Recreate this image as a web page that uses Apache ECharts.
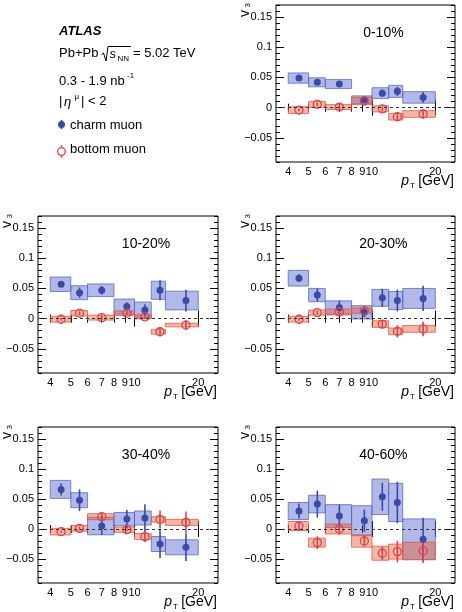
<!DOCTYPE html>
<html>
<head>
<meta charset="utf-8">
<script src="https://cdn.jsdelivr.net/npm/echarts@6/dist/echarts.min.js"></script>
<style>
html, body { margin: 0; padding: 0; background: #fff; }
#chart { width: 462px; height: 612px; }
</style>
</head>
<body>
<div id="chart"></div>
<script>
// pT bins [GeV] and where the points sit
var binEdges = [4, 5, 6, 8, 10, 12, 14, 20]
var ptPoints = [4.5, 5.5, 7, 9.2, 11.2, 13.2, 17.5]
var xTickLabels = [4, 5, 6, 7, 8, 9, 10, 20]
var yTickLabels = [-0.05, 0, 0.05, 0.1, 0.15]
var centralities = ['0-10%', '10-20%', '20-30%', '30-40%', '40-60%']

// v3 of charm muons, one row per centrality
var charmV3 = [
  [0.049, 0.042, 0.039, 0.013, 0.024, 0.027, 0.017],
  [0.057, 0.043, 0.047, 0.020, 0.0145, 0.047, 0.030],
  [0.067, 0.039, 0.0185, 0.0105, 0.0345, 0.030, 0.0335],
  [0.066, 0.048, 0.005, 0.0166, 0.0183, -0.025, -0.0305],
  [0.030, 0.0415, 0.0216, 0.0138, 0.0537, 0.0443, -0.0172]
]
var charmStat = [
  [0.002, 0.004, 0.004, 0.003, 0.006, 0.0075, 0.009],
  [0.003, 0.0085, 0.007, 0.007, 0.0095, 0.0165, 0.018],
  [0.0065, 0.0105, 0.011, 0.008, 0.015, 0.018, 0.021],
  [0.010, 0.018, 0.015, 0.015, 0.023, 0.0235, 0.023],
  [0.0125, 0.0225, 0.019, 0.0185, 0.0235, 0.0345, 0.036]
]
var charmSys = [
  [0.0085, 0.0075, 0.0075, 0.0065, 0.009, 0.010, 0.0095],
  [0.012, 0.0115, 0.0105, 0.0125, 0.013, 0.015, 0.0155],
  [0.013, 0.011, 0.011, 0.011, 0.014, 0.015, 0.0165],
  [0.015, 0.0125, 0.0147, 0.011, 0.0117, 0.0125, 0.0125],
  [0.0142, 0.0147, 0.019, 0.025, 0.0296, 0.0318, 0.034]
]

// v3 of bottom muons
var bottomV3 = [
  [-0.004, 0.0055, 0.001, 0.011, -0.002, -0.015, -0.0105],
  [-0.001, 0.009, 0.0017, 0.009, 0.003, -0.0217, -0.0106],
  [-0.001, 0.010, 0.011, 0.0133, -0.009, -0.021, -0.017],
  [-0.0044, 0.0011, 0.0205, -0.0011, -0.0127, 0.016, 0.011],
  [0.005, -0.0227, 0.0, -0.020, -0.0404, -0.0377, -0.0366]
]
var bottomStat = [
  [0.002, 0.003, 0.003, 0.003, 0.004, 0.007, 0.007],
  [0.002, 0.003, 0.002, 0.003, 0.003, 0.0075, 0.008],
  [0.002, 0.003, 0.007, 0.006, 0.007, 0.010, 0.012],
  [0.002, 0.003, 0.0075, 0.002, 0.009, 0.015, 0.018],
  [0.0083, 0.0105, 0.009, 0.009, 0.0115, 0.018, 0.020]
]
var bottomSys = [
  [0.0055, 0.005, 0.004, 0.006, 0.005, 0.0055, 0.0055],
  [0.0047, 0.0045, 0.004, 0.004, 0.0035, 0.004, 0.003],
  [0.0047, 0.0042, 0.005, 0.0045, 0.0055, 0.0055, 0.0055],
  [0.0055, 0.0047, 0.005, 0.0044, 0.005, 0.0045, 0.005],
  [0.0075, 0.0075, 0.0083, 0.0103, 0.0117, 0.0125, 0.0144]
]

var FONT = '"Liberation Sans", Arial, Helvetica, sans-serif'
var BLUE = '#3a4aa6'
var RED = '#e0404a'
var xMin = Math.log10(3.5)
var xMax = Math.log10(24.8)
var yMin = -0.09
var yMax = 0.17

function lg (v) { return Math.log10(v) }

var panels = [
  { left: 276, top: 5, width: 179, height: 157 },
  { left: 38, top: 216, width: 180, height: 157 },
  { left: 276, top: 216, width: 179, height: 157 },
  { left: 38, top: 427, width: 180, height: 156 },
  { left: 276, top: 427, width: 179, height: 156 }
]

var minorY = []
for (var k = -9; k <= 17; k++) minorY.push(k / 100)

function xAxisOf (gi, pos, ticks, len, withLabels) {
  return {
    type: 'value', gridIndex: gi, position: pos, min: xMin, max: xMax,
    axisLine: { show: false },
    splitLine: { show: false },
    axisTick: { show: true, inside: true, length: len, customValues: ticks.map(lg), lineStyle: { color: '#000', width: 1 } },
    axisLabel: withLabels ? {
      show: true, customValues: xTickLabels.map(lg), margin: 4,
      fontSize: 11, fontFamily: FONT, color: '#000',
      formatter: function (v) { return String(Math.round(Math.pow(10, v))) }
    } : { show: false }
  }
}

function yAxisOf (gi, pos, ticks, len, withLabels) {
  return {
    type: 'value', gridIndex: gi, position: pos, min: yMin, max: yMax,
    axisLine: { show: false },
    splitLine: { show: false },
    axisTick: { show: true, inside: true, length: len, customValues: ticks, lineStyle: { color: '#000', width: 1 } },
    axisLabel: withLabels ? {
      show: true, customValues: yTickLabels, margin: 4,
      fontSize: 11, fontFamily: FONT, color: '#000',
      formatter: function (v) {
        if (Math.abs(v) < 1e-9) return '0'
        return v < 0 ? '\u2212' + String(Math.abs(v)) : String(v)
      }
    } : { show: false }
  }
}

function boxSeries (axisIdx, vals, sys, fill, stroke, extra) {
  var data = vals.map(function (v, i) {
    return [lg(binEdges[i]), lg(binEdges[i + 1]), v - sys[i], v + sys[i]]
  })
  var s = {
    type: 'custom', xAxisIndex: axisIdx, yAxisIndex: axisIdx, silent: true,
    data: data,
    encode: { x: [0, 1], y: [2, 3] },
    renderItem: function (params, api) {
      var a = api.coord([api.value(0), api.value(3)])
      var b = api.coord([api.value(1), api.value(2)])
      return {
        type: 'rect',
        shape: { x: a[0], y: a[1], width: b[0] - a[0], height: b[1] - a[1] },
        style: { fill: fill, stroke: stroke, lineWidth: 1 }
      }
    }
  }
  return Object.assign(s, extra || {})
}

function errSeries (axisIdx, vals, stat, color) {
  var data = vals.map(function (v, i) {
    return [lg(ptPoints[i]), v - stat[i], v + stat[i]]
  })
  return {
    type: 'custom', xAxisIndex: axisIdx, yAxisIndex: axisIdx, silent: true,
    data: data,
    encode: { x: 0, y: [1, 2] },
    renderItem: function (params, api) {
      var a = api.coord([api.value(0), api.value(2)])
      var b = api.coord([api.value(0), api.value(1)])
      return {
        type: 'line',
        shape: { x1: a[0], y1: a[1], x2: b[0], y2: b[1] },
        style: { stroke: color, lineWidth: 1.6 }
      }
    }
  }
}

var grids = []
var xAxes = []
var yAxes = []
var series = []
var graphics = []

panels.forEach(function (p, gi) {
  grids.push({ left: p.left, top: p.top, width: p.width, height: p.height, show: true, borderColor: '#000', borderWidth: 1, backgroundColor: 'transparent' })
  var base = xAxes.length
  xAxes.push(xAxisOf(gi, 'bottom', [10, 20], 8, true))
  xAxes.push(xAxisOf(gi, 'bottom', [4, 5, 6, 7, 8, 9], 4, false))
  xAxes.push(xAxisOf(gi, 'top', [10, 20], 8, false))
  xAxes.push(xAxisOf(gi, 'top', [4, 5, 6, 7, 8, 9], 4, false))
  yAxes.push(yAxisOf(gi, 'left', yTickLabels, 8, true))
  yAxes.push(yAxisOf(gi, 'left', minorY, 4, false))
  yAxes.push(yAxisOf(gi, 'right', yTickLabels, 8, false))
  yAxes.push(yAxisOf(gi, 'right', minorY, 4, false))

  series.push(boxSeries(base, charmV3[gi], charmSys[gi], 'rgba(80,100,205,0.45)', 'rgba(80,100,205,0.75)'))
  series.push(boxSeries(base, bottomV3[gi], bottomSys[gi], 'rgba(232,95,55,0.45)', 'rgba(228,90,70,0.8)', {
    markLine: {
      silent: true, symbol: 'none', animation: false,
      label: { show: false },
      lineStyle: { type: [3, 3], color: '#333', width: 1 },
      data: [{ yAxis: 0 }]
    }
  }))
  series.push(errSeries(base, charmV3[gi], charmStat[gi], BLUE))
  series.push(errSeries(base, bottomV3[gi], bottomStat[gi], RED))
  series.push({
    type: 'scatter', xAxisIndex: base, yAxisIndex: base, silent: true,
    symbol: 'circle', symbolSize: 7,
    itemStyle: { color: BLUE, opacity: 1 },
    data: charmV3[gi].map(function (v, i) { return [lg(ptPoints[i]), v] })
  })
  series.push({
    type: 'scatter', xAxisIndex: base, yAxisIndex: base, silent: true,
    symbol: 'circle', symbolSize: 8,
    itemStyle: { color: 'rgba(0,0,0,0)', borderColor: RED, borderWidth: 1.3, opacity: 1 },
    data: bottomV3[gi].map(function (v, i) { return [lg(ptPoints[i]), v] })
  })

  var right = p.left + p.width
  var bottom = p.top + p.height
  // centrality label
  graphics.push({ type: 'text', x: p.left + p.width * 0.6, y: p.top + 28, style: { text: centralities[gi], font: '14px ' + FONT, fill: '#000', align: 'center', verticalAlign: 'middle' } })
  // x title  p_T [GeV]
  graphics.push({ type: 'text', x: right - 1, y: bottom + 19, style: { text: '[GeV]', font: '14px ' + FONT, fill: '#000', align: 'right', verticalAlign: 'middle' } })
  graphics.push({ type: 'text', x: right - 40, y: bottom + 24, style: { text: 'T', font: '8px ' + FONT, fill: '#000', align: 'right', verticalAlign: 'middle' } })
  graphics.push({ type: 'text', x: right - 46, y: bottom + 19, style: { text: 'p', font: 'italic 14px ' + FONT, fill: '#000', align: 'right', verticalAlign: 'middle' } })
  // y title  v_3
  graphics.push({ type: 'text', x: p.left - 31, y: p.top + 5, rotation: Math.PI / 2, style: { text: 'v', font: '14px ' + FONT, fill: '#000', align: 'right', verticalAlign: 'middle' } })
  graphics.push({ type: 'text', x: p.left - 28, y: p.top - 2, rotation: Math.PI / 2, style: { text: '3', font: '8px ' + FONT, fill: '#000', align: 'right', verticalAlign: 'middle' } })
})

// header text block
var T13 = '13px ' + FONT
graphics.push(
  { type: 'text', x: 59, y: 31.3, style: { text: 'ATLAS', font: 'italic bold 13px ' + FONT, fill: '#000', verticalAlign: 'middle' } },
  { type: 'text', x: 59, y: 53.3, style: { text: 'Pb+Pb', font: T13, fill: '#000', verticalAlign: 'middle' } },
  { type: 'polyline', shape: { points: [[101.5, 54.5], [103.5, 53], [106, 61], [108, 46.5], [131, 46.5]] }, style: { stroke: '#000', lineWidth: 1, fill: null } },
  { type: 'text', x: 109.5, y: 54, style: { text: 's', font: 'italic 13px ' + FONT, fill: '#000', verticalAlign: 'middle' } },
  { type: 'text', x: 117.5, y: 58.5, style: { text: 'NN', font: '8px ' + FONT, fill: '#000', verticalAlign: 'middle' } },
  { type: 'text', x: 133, y: 53.3, style: { text: '= 5.02 TeV', font: T13, fill: '#000', verticalAlign: 'middle' } },
  { type: 'text', x: 59, y: 81, style: { text: '0.3 - 1.9 nb', font: T13, fill: '#000', verticalAlign: 'middle' } },
  { type: 'text', x: 127, y: 76, style: { text: '-1', font: '8px ' + FONT, fill: '#000', verticalAlign: 'middle' } },
  { type: 'text', x: 59, y: 101.7, style: { text: '|', font: T13, fill: '#000', verticalAlign: 'middle' } },
  { type: 'text', x: 64, y: 102.5, style: { text: '\u03b7', font: 'italic 13px ' + FONT, fill: '#000', verticalAlign: 'middle' } },
  { type: 'text', x: 74.5, y: 97, style: { text: '\u03bc', font: '8px ' + FONT, fill: '#000', verticalAlign: 'middle' } },
  { type: 'text', x: 81, y: 101.7, style: { text: '| < 2', font: T13, fill: '#000', verticalAlign: 'middle' } },
  { type: 'line', shape: { x1: 61.5, y1: 120, x2: 61.5, y2: 129 }, style: { stroke: BLUE, lineWidth: 1.6 } },
  { type: 'circle', shape: { cx: 61.5, cy: 124.5, r: 3.5 }, style: { fill: BLUE } },
  { type: 'text', x: 70, y: 125.5, style: { text: 'charm muon', font: T13, fill: '#000', verticalAlign: 'middle' } },
  { type: 'line', shape: { x1: 61.5, y1: 145, x2: 61.5, y2: 147.5 }, style: { stroke: RED, lineWidth: 1.3 } },
  { type: 'line', shape: { x1: 61.5, y1: 155.5, x2: 61.5, y2: 158 }, style: { stroke: RED, lineWidth: 1.3 } },
  { type: 'circle', shape: { cx: 61.5, cy: 151.5, r: 3.8 }, style: { fill: null, stroke: RED, lineWidth: 1.3 } },
  { type: 'text', x: 70, y: 149, style: { text: 'bottom muon', font: T13, fill: '#000', verticalAlign: 'middle' } }
)

var chart = echarts.init(document.getElementById('chart'), null, { renderer: 'canvas' })
chart.setOption({
  animation: false,
  backgroundColor: '#fff',
  grid: grids,
  xAxis: xAxes,
  yAxis: yAxes,
  series: series,
  graphic: graphics
})
</script>
</body>
</html>
